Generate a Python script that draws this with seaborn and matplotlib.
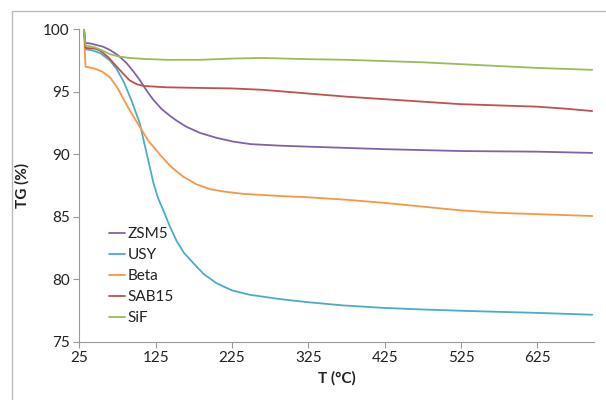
import matplotlib
matplotlib.use("Agg")
import matplotlib.pyplot as plt
import seaborn as sns
import pandas as pd
from matplotlib.patches import Rectangle

sns.set_theme(style="white")
plt.rcParams['font.family'] = ['Lato', 'DejaVu Sans']

# Temperature (°C) and TG (%) values
zsm5_T = [31, 33, 40, 47, 56, 65, 76, 87, 96, 104, 113, 122, 133, 144, 152, 165, 183, 205, 227, 250,
          288, 325, 425, 525, 625, 697]
zsm5_TG = [100, 98.9, 98.85, 98.74, 98.6, 98.34, 97.9, 97.28, 96.6, 95.94, 95.1, 94.34, 93.6, 93.05,
           92.7, 92.2, 91.7, 91.3, 91.0, 90.8, 90.68, 90.6, 90.4, 90.25, 90.2, 90.1]

usy_T = [31, 33, 42, 52, 65, 74, 83, 93, 104, 113, 122, 128, 135, 143, 152, 162, 174, 188, 205,
         225, 248, 288, 325, 370, 423, 475, 524, 575, 624, 697]
usy_TG = [100, 98.4, 98.3, 98.1, 97.5, 96.8, 95.8, 94.34, 92.5, 90.1, 87.7, 86.5, 85.5, 84.3, 83.1,
          82.1, 81.3, 80.4, 79.66, 79.1, 78.75, 78.4, 78.15, 77.9, 77.7, 77.57, 77.47, 77.38, 77.3,
          77.15]

beta_T = [31, 33, 45, 55, 65, 74, 82, 92, 102, 115, 130, 145, 161, 178, 196, 215, 240, 288, 325,
          375, 425, 475, 525, 575, 625, 697]
beta_TG = [100, 97.0, 96.85, 96.6, 96.15, 95.4, 94.5, 93.4, 92.4, 91.1, 90.0, 89.0, 88.2, 87.6, 87.2,
           87.0, 86.82, 86.65, 86.55, 86.35, 86.1, 85.8, 85.5, 85.3, 85.2, 85.05]

sab15_T = [31, 33, 45, 52, 63, 74, 83, 91, 100, 109, 125, 139, 183, 225, 265, 295, 325, 375, 425,
           475, 525, 575, 625, 660, 697]
sab15_TG = [100, 98.5, 98.45, 98.3, 97.75, 97.0, 96.4, 95.9, 95.6, 95.46, 95.4, 95.35, 95.3, 95.26,
            95.15, 95.0, 94.85, 94.6, 94.4, 94.2, 94.0, 93.9, 93.8, 93.65, 93.45]

sif_T = [31, 33, 45, 55, 65, 78, 91, 110, 139, 183, 225, 265, 325, 375, 425, 475, 525, 575, 625, 697]
sif_TG = [100, 98.7, 98.55, 98.3, 98.0, 97.8, 97.7, 97.62, 97.55, 97.55, 97.65, 97.7, 97.6, 97.55,
          97.45, 97.35, 97.2, 97.05, 96.9, 96.75]

series = [
    ("ZSM5", zsm5_T, zsm5_TG, "#8064A2"),
    ("USY", usy_T, usy_TG, "#4BACC6"),
    ("Beta", beta_T, beta_TG, "#F79646"),
    ("SAB15", sab15_T, sab15_TG, "#C0504D"),
    ("SiF", sif_T, sif_TG, "#9BBB59"),
]

x_ticks = [25, 125, 225, 325, 425, 525, 625]
y_ticks = [75, 80, 85, 90, 95, 100]

fig = plt.figure(figsize=(6.06, 4.0), dpi=100)
ax = fig.add_axes([0.131, 0.146, 0.981 - 0.131, 0.927 - 0.146])

palette = {}
frames = []
for name, T, TG, col in series:
    frames.append(pd.DataFrame({"T": T, "TG": TG, "name": name}))
    palette[name] = col
df = pd.concat(frames, ignore_index=True)

sns.lineplot(data=df, x="T", y="TG", hue="name", palette=palette, sort=False,
             estimator=None, linewidth=1.3, ax=ax)

ax.set_xlim(25, 700)
ax.set_ylim(75, 100)
ax.set_xticks(x_ticks)
ax.set_yticks(y_ticks)
ax.tick_params(axis='both', labelsize=11, length=4, width=0.8,
               direction='out', left=True, bottom=True, pad=3,
               colors='#999999', labelcolor='#222222')
for s in ['top', 'right']:
    ax.spines[s].set_visible(False)
for s in ['left', 'bottom']:
    ax.spines[s].set_color('#999999')
    ax.spines[s].set_linewidth(0.8)

ax.set_xlabel("T (°C)", fontsize=11, fontweight='bold', labelpad=4, color='#222222')
ax.set_ylabel("TG (%)", fontsize=11, fontweight='bold', labelpad=10, color='#222222')

leg = ax.legend(loc='upper left', bbox_to_anchor=(0.045, 0.385), frameon=False,
                fontsize=11, handlelength=1.1, handletextpad=0.15,
                labelspacing=0.45, borderaxespad=0)
for text in leg.get_texts():
    text.set_color('#222222')
for line in leg.get_lines():
    line.set_linewidth(1.3)

fig.patches.append(Rectangle((12 / 606, -0.1), 1.2, 1 - 11 / 400 + 0.1,
                             transform=fig.transFigure, fill=False,
                             edgecolor='#BBBBBB', linewidth=1))

fig.savefig("out.png", dpi=100)
